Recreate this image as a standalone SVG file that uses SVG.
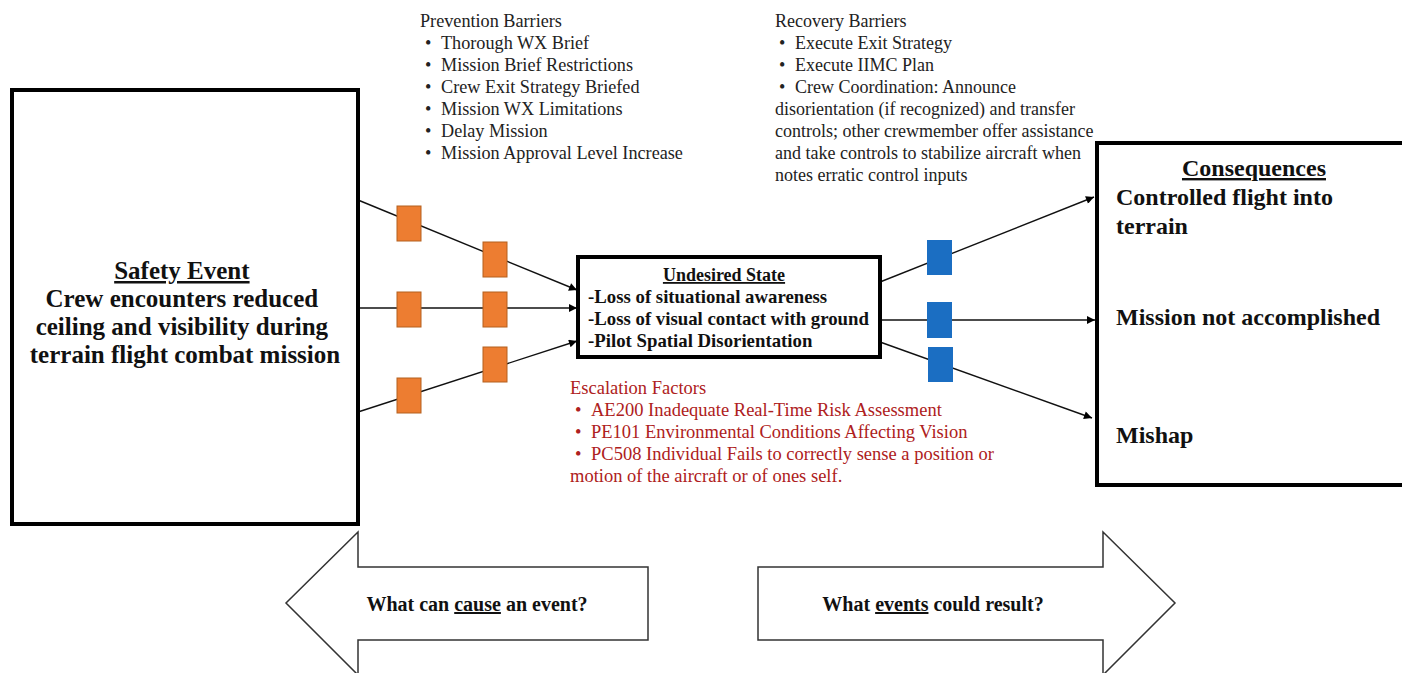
<svg xmlns="http://www.w3.org/2000/svg" width="1402" height="673" viewBox="0 0 1402 673">
<defs>
<marker id="ah" viewBox="0 0 10 10" refX="10" refY="5" markerWidth="10" markerHeight="8" markerUnits="userSpaceOnUse" orient="auto">
<path d="M0,0 L10,5 L0,10 z" fill="#000"/>
</marker>
</defs>
<style>
.box{fill:#fff;stroke:#000;stroke-width:4}
.conn{stroke:#111;stroke-width:1.4;fill:none;marker-end:url(#ah)}
.prev{fill:#ED7D31;stroke:#B4601F;stroke-width:1}
.rec{fill:#1B6EC2}
.big{font-family:"Liberation Serif","Times New Roman",serif;font-weight:bold;fill:#111}
.small{font-family:"Liberation Serif","Times New Roman",serif;font-size:18px;fill:#222}
.red{fill:#AE2020}
.barrow{fill:#fff;stroke:#333;stroke-width:1.5}
</style>
<rect width="1402" height="673" fill="#fff"/>

<g id="connectors">
<line class="conn" x1="358" y1="200" x2="577" y2="290"/>
<line class="conn" x1="358" y1="308" x2="577" y2="308"/>
<line class="conn" x1="358" y1="412" x2="577" y2="341"/>
<line class="conn" x1="880" y1="282" x2="1094" y2="197"/>
<line class="conn" x1="880" y1="320" x2="1095" y2="320"/>
<line class="conn" x1="880" y1="342" x2="1092" y2="418"/>
</g>

<g id="safety-event">
<rect class="box" x="12" y="90" width="346" height="434"/>
<text class="big" font-size="25" text-anchor="middle">
<tspan x="185" y="279" text-decoration="underline">Safety Event</tspan>
<tspan x="185" y="307">Crew encounters reduced</tspan>
<tspan x="185" y="335">ceiling and visibility during</tspan>
<tspan x="185" y="363">terrain flight combat mission</tspan>
</text>
</g>

<g id="prevention-barriers">
<rect class="prev" x="397" y="206" width="24" height="35"/>
<rect class="prev" x="483" y="242" width="24" height="35"/>
<rect class="prev" x="397" y="292" width="24" height="35"/>
<rect class="prev" x="483" y="292" width="24" height="35"/>
<rect class="prev" x="483" y="347" width="24" height="35"/>
<rect class="prev" x="397" y="378" width="24" height="35"/>
</g>

<g id="prevention-text">
<text class="small" style="font-size:18.2px">
<tspan x="420" y="27">Prevention Barriers</tspan>
<tspan x="425" y="49">•</tspan><tspan x="441" y="49">Thorough WX Brief</tspan>
<tspan x="425" y="71">•</tspan><tspan x="441" y="71">Mission Brief Restrictions</tspan>
<tspan x="425" y="93">•</tspan><tspan x="441" y="93">Crew Exit Strategy Briefed</tspan>
<tspan x="425" y="115">•</tspan><tspan x="441" y="115">Mission WX Limitations</tspan>
<tspan x="425" y="137">•</tspan><tspan x="441" y="137">Delay Mission</tspan>
<tspan x="425" y="159">•</tspan><tspan x="441" y="159">Mission Approval Level Increase</tspan>
</text>
</g>

<g id="undesired-state">
<rect class="box" x="578" y="257" width="302" height="100"/>
<text class="big" font-size="18" text-anchor="middle"><tspan x="724" y="281" text-decoration="underline">Undesired State</tspan></text>
<text class="big" font-size="18.8">
<tspan x="588" y="303">-Loss of situational awareness</tspan>
<tspan x="588" y="325">-Loss of visual contact with ground</tspan>
<tspan x="588" y="347">-Pilot Spatial Disorientation</tspan>
</text>
</g>

<g id="recovery-text">
<text class="small">
<tspan x="775" y="27">Recovery Barriers</tspan>
<tspan x="779" y="49">•</tspan><tspan x="795" y="49">Execute Exit Strategy</tspan>
<tspan x="779" y="71">•</tspan><tspan x="795" y="71">Execute IIMC Plan</tspan>
<tspan x="779" y="93">•</tspan><tspan x="795" y="93">Crew Coordination: Announce</tspan>
<tspan x="775" y="115">disorientation (if recognized) and transfer</tspan>
<tspan x="775" y="137">controls; other crewmember offer assistance</tspan>
<tspan x="775" y="159">and take controls to stabilize aircraft when</tspan>
<tspan x="775" y="181">notes erratic control inputs</tspan>
</text>
</g>

<g id="recovery-barriers">
<rect class="rec" x="927" y="240" width="25" height="35"/>
<rect class="rec" x="927" y="302" width="25" height="36"/>
<rect class="rec" x="928" y="347" width="25" height="35"/>
</g>

<g id="escalation-factors">
<text class="small red" style="font-size:18.5px">
<tspan x="570" y="394">Escalation Factors</tspan>
<tspan x="575" y="416">•</tspan><tspan x="591" y="416">AE200 Inadequate Real-Time Risk Assessment</tspan>
<tspan x="575" y="438">•</tspan><tspan x="591" y="438">PE101 Environmental Conditions Affecting Vision</tspan>
<tspan x="575" y="460">•</tspan><tspan x="591" y="460">PC508 Individual Fails to correctly sense a position or</tspan>
<tspan x="570" y="482">motion of the aircraft or of ones self.</tspan>
</text>
</g>

<g id="consequences">
<rect class="box" x="1097" y="143" width="320" height="342"/>
<text class="big" font-size="24">
<tspan x="1257" y="176" text-anchor="middle" text-decoration="underline">Consequences</tspan>
<tspan x="1116" y="205">Controlled flight into</tspan>
<tspan x="1116" y="234">terrain</tspan>
<tspan x="1116" y="325">Mission not accomplished</tspan>
<tspan x="1116" y="443">Mishap</tspan>
</text>
</g>

<g id="cause-arrow">
<polygon class="barrow" points="648,567 358,567 358,532 286,603 358,675 358,640 648,640"/>
<text class="big" font-size="20" x="477" y="611" text-anchor="middle">What can <tspan text-decoration="underline">cause</tspan> an event?</text>
</g>

<g id="result-arrow">
<polygon class="barrow" points="758,567 1103,567 1103,532 1175,603 1103,675 1103,640 758,640"/>
<text class="big" font-size="20" x="933" y="611" text-anchor="middle">What <tspan text-decoration="underline">events</tspan> could result?</text>
</g>
</svg>
